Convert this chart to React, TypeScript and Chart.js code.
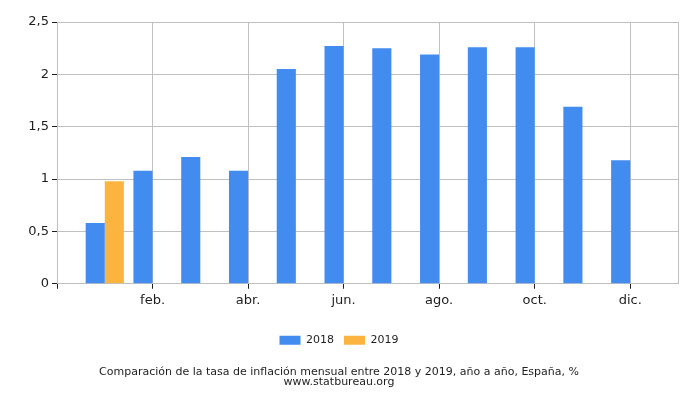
import React, { useEffect, useRef } from 'react';
import { Chart, registerables } from 'chart.js';

Chart.register(...registerables);

const months = ['ene.', 'feb.', 'mar.', 'abr.', 'may.', 'jun.', 'jul.', 'ago.', 'sep.', 'oct.', 'nov.', 'dic.'];
const shownMonths = ['feb.', 'abr.', 'jun.', 'ago.', 'oct.', 'dic.'];
const seriesNames = ['2018', '2019'];
const values2018 = [0.58, 1.08, 1.21, 1.08, 2.05, 2.27, 2.25, 2.19, 2.26, 2.26, 1.69, 1.18];
const values2019 = [0.98];
const yTicks = [0, 0.5, 1, 1.5, 2, 2.5];
const titleLines = [
  'Comparación de la tasa de inflación mensual entre 2018 y 2019, año a año, España, %',
  'www.statbureau.org',
];

const BLUE = '#428bef';
const ORANGE = '#fbb440';
const GRID = '#c0c0c0';
const TEXT = '#1e1e1e';
const CLEAR = 'rgba(0,0,0,0)';

export default function App() {
  const ref = useRef<HTMLCanvasElement | null>(null);

  useEffect(() => {
    if (!ref.current) return;
    Chart.defaults.font.family = "'DejaVu Sans', sans-serif";
    const labels = ['', ...months, ''];
    const pad = (arr: number[]) => [null, ...months.map((_, i) => (i < arr.length ? arr[i] : null)), null];
    const lastIdx = labels.length - 1;

    const chart = new Chart(ref.current, {
      type: 'bar',
      data: {
        labels,
        datasets: [
          {
            label: seriesNames[0],
            data: pad(values2018),
            backgroundColor: BLUE,
            borderWidth: 0,
            categoryPercentage: 0.8,
            barPercentage: 1,
          },
          {
            label: seriesNames[1],
            data: pad(values2019),
            backgroundColor: ORANGE,
            borderWidth: 0,
            categoryPercentage: 0.8,
            barPercentage: 1,
          },
        ],
      },
      options: {
        responsive: false,
        animation: false,
        layout: { padding: { top: 22, right: 22, left: 0, bottom: 0 } },
        plugins: {
          tooltip: { enabled: false },
          legend: {
            position: 'bottom',
            labels: {
              boxWidth: 21,
              boxHeight: 9,
              padding: 10,
              color: TEXT,
              font: { size: 11 },
            },
          },
          title: {
            display: true,
            position: 'bottom',
            text: titleLines,
            color: TEXT,
            font: { size: 11, weight: 'normal', lineHeight: 0.92 },
            padding: { top: 11, bottom: 13 },
          },
        },
        scales: {
          x: {
            offset: false,
            afterFit: (s: any) => {
              s.height = 41;
            },
            grid: {
              offset: false,
              drawOnChartArea: true,
              drawTicks: true,
              tickLength: 5,
              tickWidth: 1,
              color: (ctx: any) => {
                const i = ctx.index;
                if (i === 0 || i === lastIdx) return GRID;
                return shownMonths.includes(labels[i]) ? GRID : CLEAR;
              },
              tickColor: (ctx: any) => {
                const i = ctx.index;
                if (i === 0) return TEXT;
                return shownMonths.includes(labels[i]) ? TEXT : CLEAR;
              },
            },
            border: { display: true, color: GRID },
            ticks: {
              autoSkip: false,
              maxRotation: 0,
              color: TEXT,
              font: { size: 13 },
              padding: 4,
              callback: (_v: any, i: number) => (shownMonths.includes(labels[i]) ? labels[i] : ''),
            },
          },
          y: {
            min: yTicks[0],
            max: yTicks[yTicks.length - 1],
            afterFit: (s: any) => {
              s.width = 57;
            },
            afterBuildTicks: (s: any) => {
              s.ticks = yTicks.map((v) => ({ value: v }));
            },
            grid: { color: GRID, tickLength: 5, tickColor: TEXT },
            border: { display: true, color: GRID },
            ticks: {
              color: TEXT,
              font: { size: 13 },
              padding: 3,
              callback: (v: any) => String(v).replace('.', ','),
            },
          },
        },
      },
    });
    return () => chart.destroy();
  }, []);

  return (
    <div style={{ position: 'fixed', left: 0, top: 0, width: 700, height: 400, background: '#fff' }}>
      <canvas ref={ref} width={700} height={400} style={{ width: 700, height: 400 }} />
    </div>
  );
}
